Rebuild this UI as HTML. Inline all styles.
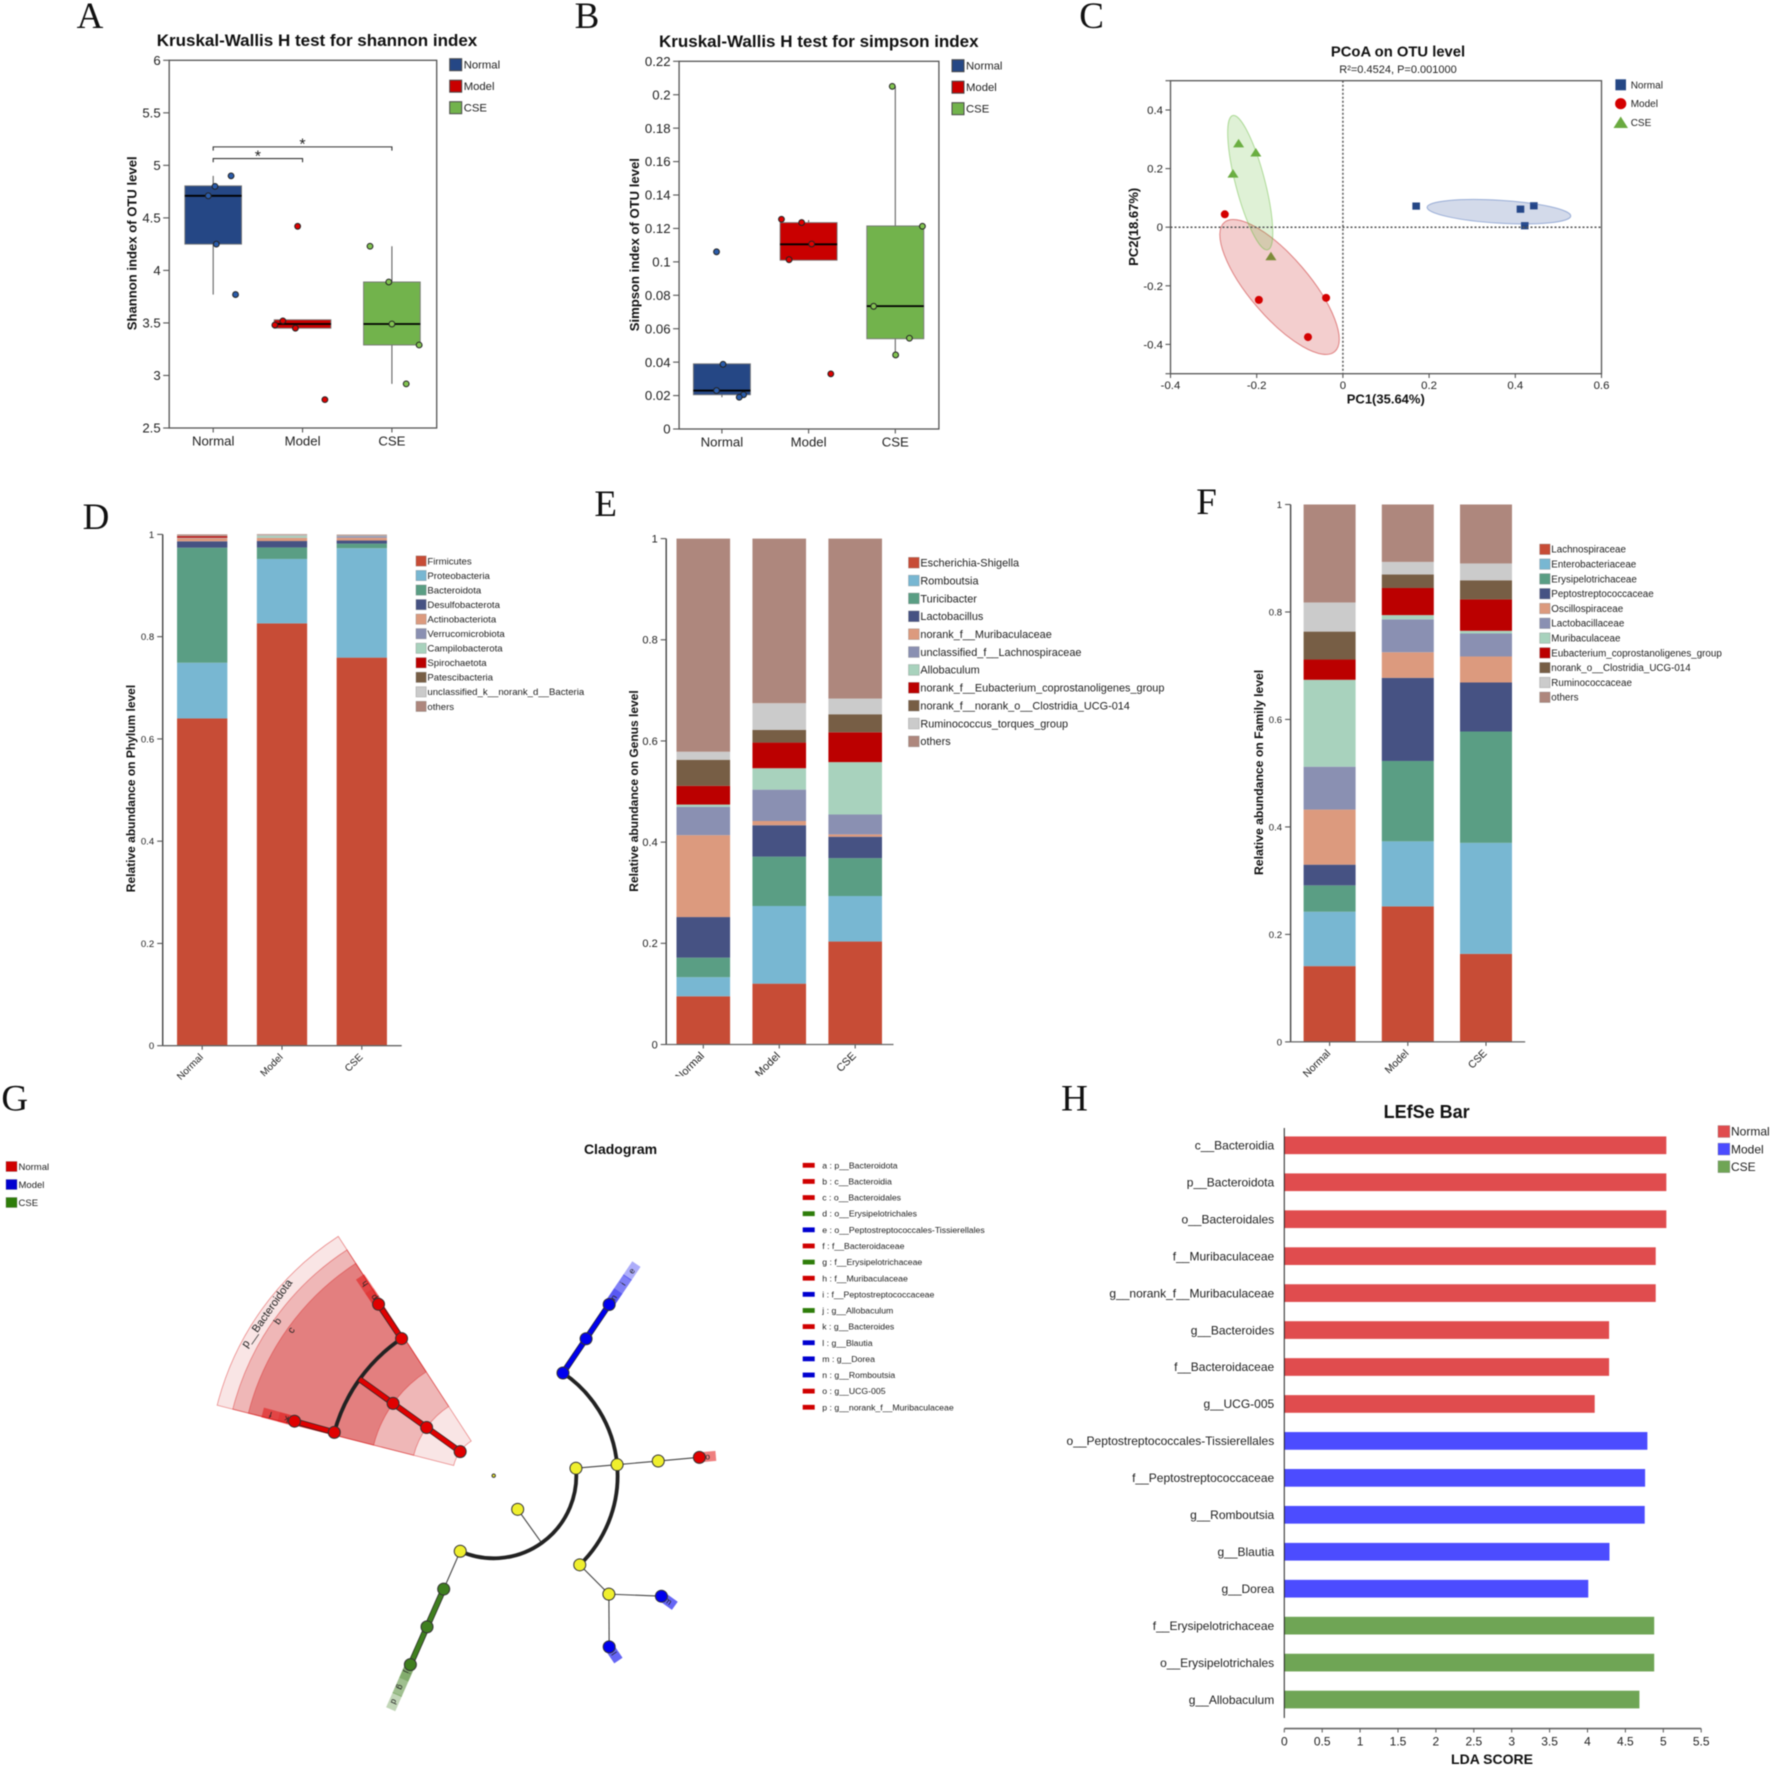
<!DOCTYPE html>
<html lang="en">
<head>
<meta charset="utf-8">
<title>Microbiome diversity figure</title>
<style>
html,body{margin:0;padding:0;background:#fff;}
svg{display:block;font-family:"Liberation Sans",Arial,sans-serif;filter:blur(0.45px);}
text{fill:#222;}
.panel-letter{font-family:"Liberation Serif","Times New Roman",serif;font-size:37px;fill:#111;}
.bold{font-weight:bold;fill:#111;}
</style>
</head>
<body>
<svg id="figure" xmlns="http://www.w3.org/2000/svg" width="1772" height="1768" viewBox="0 0 1772 1768">
<defs><clipPath id="genus-clip"><rect x="600" y="480" width="600" height="596"/></clipPath></defs>
<rect x="0" y="0" width="1772" height="1768" fill="#fff"/>

<text class="panel-letter" x="90" y="28" text-anchor="middle">A</text>
<text class="panel-letter" x="587" y="28" text-anchor="middle">B</text>
<text class="panel-letter" x="1091.6" y="28" text-anchor="middle">C</text>
<text class="panel-letter" x="96" y="529" text-anchor="middle">D</text>
<text class="panel-letter" x="605.7" y="516" text-anchor="middle">E</text>
<text class="panel-letter" x="1206.5" y="514" text-anchor="middle">F</text>
<text class="panel-letter" x="14.7" y="1110.5" text-anchor="middle">G</text>
<text class="panel-letter" x="1074.5" y="1110.5" text-anchor="middle">H</text>

<text class="bold" x="317" y="46" font-size="17" text-anchor="middle">Kruskal-Wallis H test for shannon index</text>
<text class="bold" font-size="13.1" text-anchor="middle" transform="translate(136.6,243.3) rotate(-90)">Shannon index of OTU level</text>
<text class="bold" x="818.8" y="47" font-size="17" text-anchor="middle">Kruskal-Wallis H test for simpson index</text>
<text class="bold" font-size="13.1" text-anchor="middle" transform="translate(638.9,244.7) rotate(-90)">Simpson index of OTU level</text>

<text class="bold" x="1398" y="56.7" font-size="14.8" text-anchor="middle">PCoA on OTU level</text>
<text x="1398" y="72.8" font-size="11" text-anchor="middle">R²=0.4524, P=0.001000</text>
<text class="bold" font-size="13" text-anchor="middle" transform="translate(1138,226.8) rotate(-90)">PC2(18.67%)</text>
<text class="bold" x="1385.8" y="403.5" font-size="13" text-anchor="middle">PC1(35.64%)</text>

<text class="bold" font-size="12" text-anchor="middle" transform="translate(134.9,788.5) rotate(-90)">Relative abundance on Phylum level</text>
<text class="bold" font-size="12" text-anchor="middle" transform="translate(637.9,791) rotate(-90)">Relative abundance on Genus level</text>
<text class="bold" font-size="12.2" text-anchor="middle" transform="translate(1262.9,772.4) rotate(-90)">Relative abundance on Family level</text>

<text class="bold" x="620.5" y="1154" font-size="14" text-anchor="middle">Cladogram</text>
<text class="bold" x="1426.6" y="1118" font-size="18" text-anchor="middle">LEfSe Bar</text>
<text class="bold" x="1492" y="1764" font-size="14" text-anchor="middle">LDA SCORE</text>

<g id="panel-a"></g>
<g id="panel-b"></g>
<g id="panel-c"></g>
<g id="panel-d"></g>
<g id="panel-e" clip-path="url(#genus-clip)"></g>
<g id="panel-f"></g>
<g id="panel-g"></g>
<g id="panel-h"></g>
</svg>

<script>
/* ---------- data: shared ---------- */
const groupNames = ['Normal', 'Model', 'CSE'];

/* ---------- data: shannon ---------- */
const shannonTicks = [2.5, 3, 3.5, 4, 4.5, 5, 5.5, 6];
const shannonQ1 = [4.25, 3.45, 3.29];
const shannonMedian = [4.71, 3.49, 3.49];
const shannonQ3 = [4.805, 3.53, 3.89];
const shannonWhiskerLow = [3.77, 3.45, 2.92];
const shannonWhiskerHigh = [4.9, 3.53, 4.23];
const shannonPoints = [[4.9, 4.8, 4.71, 4.25, 3.77], [3.52, 3.48, 3.45, 4.42, 2.77], [4.23, 3.89, 3.49, 3.29, 2.92]];
const shannonJitter = [[0.2, 0.02, -0.055, 0.035, 0.25], [-0.22, -0.31, -0.08, -0.055, 0.25], [-0.245, -0.035, 0, 0.305, 0.16]];
const shannonBracketLevels = [5.065, 5.176];
const shannonBracketTargets = [1, 2];

/* ---------- data: simpson ---------- */
const simpsonTicks = [0, 0.02, 0.04, 0.06, 0.08, 0.1, 0.12, 0.14, 0.16, 0.18, 0.2, 0.22];
const simpsonQ1 = [0.0205, 0.101, 0.054];
const simpsonMedian = [0.023, 0.1105, 0.0735];
const simpsonQ3 = [0.039, 0.1235, 0.1215];
const simpsonWhiskerLow = [0.019, 0.101, 0.0445];
const simpsonWhiskerHigh = [0.039, 0.125, 0.205];
const simpsonPoints = [[0.0387, 0.023, 0.0205, 0.019, 0.106], [0.1255, 0.1235, 0.1107, 0.1013, 0.033], [0.205, 0.1213, 0.0734, 0.0543, 0.0443]];
const simpsonJitter = [[0.013, -0.062, 0.25, 0.2, -0.062], [-0.313, -0.08, 0.035, -0.225, 0.256], [-0.035, 0.313, -0.25, 0.163, 0.004]];

/* ---------- data: pcoa ---------- */
const pcoaXTicks = [-0.4, -0.2, 0, 0.2, 0.4, 0.6];
const pcoaYTicks = [-0.5, -0.4, -0.2, 0, 0.2, 0.4, 0.5];
const pcoaNormalX = [0.17, 0.412, 0.443, 0.422];
const pcoaNormalY = [0.072, 0.0615, 0.073, 0.005];
const pcoaModelX = [-0.274, -0.195, -0.081, -0.039];
const pcoaModelY = [0.044, -0.248, -0.375, -0.241];
const pcoaCseX = [-0.242, -0.202, -0.255, -0.167];
const pcoaCseY = [0.286, 0.255, 0.183, -0.099];
const pcoaEllipseCenterX = [0.362, -0.147, -0.215];
const pcoaEllipseCenterY = [0.053, -0.204, 0.152];

/* ---------- data: stacked bars ---------- */
const abundanceTicks = [0, 0.2, 0.4, 0.6, 0.8, 1];
const phylumNames = ['Firmicutes', 'Proteobacteria', 'Bacteroidota', 'Desulfobacterota', 'Actinobacteriota', 'Verrucomicrobiota', 'Campilobacterota', 'Spirochaetota', 'Patescibacteria', 'unclassified_k__norank_d__Bacteria', 'others'];
const phylumValues = [
  [0.64, 0.826, 0.759], [0.109, 0.126, 0.214], [0.225, 0.0225, 0.009], [0.0125, 0.0125, 0.006],
  [0.006, 0.006, 0.0055], [0.0005, 0.0005, 0.003], [0.0005, 0.0035, 0.0003], [0.003, 0, 0],
  [0.0005, 0.0005, 0.0005], [0.0005, 0.0015, 0.0005], [0.0025, 0.0015, 0.0017]
];
const genusNames = ['Escherichia-Shigella', 'Romboutsia', 'Turicibacter', 'Lactobacillus', 'norank_f__Muribaculaceae', 'unclassified_f__Lachnospiraceae', 'Allobaculum', 'norank_f__Eubacterium_coprostanoligenes_group', 'norank_f__norank_o__Clostridia_UCG-014', 'Ruminococcus_torques_group', 'others'];
const genusValues = [
  [0.0953, 0.1203, 0.2035], [0.0378, 0.1535, 0.09], [0.0386, 0.0976, 0.0749], [0.0802, 0.062, 0.0423],
  [0.1619, 0.0084, 0.0046], [0.0559, 0.062, 0.0393], [0.0046, 0.0423, 0.1036], [0.037, 0.0507, 0.059],
  [0.0515, 0.025, 0.0356], [0.0159, 0.0529, 0.031], [0.4213, 0.3253, 0.3162]
];
const familyNames = ['Lachnospiraceae', 'Enterobacteriaceae', 'Erysipelotrichaceae', 'Peptostreptococcaceae', 'Oscillospiraceae', 'Lactobacillaceae', 'Muribaculaceae', 'Eubacterium_coprostanoligenes_group', 'norank_o__Clostridia_UCG-014', 'Ruminococcaceae', 'others'];
const familyValues = [
  [0.141, 0.2521, 0.1638], [0.1012, 0.1211, 0.2066], [0.0491, 0.1496, 0.2072], [0.0385, 0.1546, 0.0912],
  [0.1025, 0.0477, 0.0484], [0.0798, 0.0612, 0.0428], [0.1617, 0.0079, 0.005], [0.0377, 0.0505, 0.0584],
  [0.052, 0.025, 0.0356], [0.0542, 0.0235, 0.0313], [0.1823, 0.1068, 0.1097]
];

/* ---------- data: cladogram ---------- */
const cladoLegendLabels = ['a : p__Bacteroidota', 'b : c__Bacteroidia', 'c : o__Bacteroidales', 'd : o__Erysipelotrichales', 'e : o__Peptostreptococcales-Tissierellales', 'f : f__Bacteroidaceae', 'g : f__Erysipelotrichaceae', 'h : f__Muribaculaceae', 'i : f__Peptostreptococcaceae', 'j : g__Allobaculum', 'k : g__Bacteroides', 'l : g__Blautia', 'm : g__Dorea', 'n : g__Romboutsia', 'o : g__UCG-005', 'p : g__norank_f__Muribaculaceae'];
const cladoLegendGroups = [0, 0, 0, 2, 1, 0, 2, 0, 1, 2, 0, 1, 1, 1, 0, 0];
const cladoNodeLevels = [1, 2, 3, 4, 4, 4, 5, 5, 3, 4, 5, 3, 2, 4, 5, 3, 4, 5, 5, 1, 2, 2, 3, 4, 5, 0];
const cladoNodeAngles = [215.7, 215.7, 215.7, 215.7, 195.2, 236.1, 195.3, 236.1, 304, 304, 304, -5.1, -5.2, -5.1, -5.1, 46, 45.8, 35.7, 56, 54.5, 54.5, 113.9, 113.8, 113.8, 113.8, 0];
const cladoNodeGroups = [0, 0, 0, -1, 0, 0, 0, 0, 1, 1, 1, -2, -2, -2, 0, -2, -2, 1, 1, -2, -1, -2, 2, 2, 2, -2];
const cladoThickEdgesFrom = [3, 2, 1, 4, 5, 8, 9, 22, 23];
const cladoThickEdgesTo = [2, 1, 0, 6, 7, 9, 10, 23, 24];
const cladoThinEdgesFrom = [12, 11, 13, 15, 16, 16, 19, 21];
const cladoThinEdgesTo = [11, 13, 14, 16, 17, 18, 20, 22];
const cladoArcLevels = [4, 2, 3];
const cladoArcStart = [195.2, -5.2, 304];
const cladoArcEnd = [236.1, 113.9, 406];
const cladoFanInner = [1, 2, 3];
const cladoFanOuter = [6.91, 6.52, 6.13];
const cladoFanAlpha = [0.1, 0.2, 0.305];
const cladoFanAngleStart = [194.3];
const cladoFanAngleEnd = [237];
const cladoBoxLetters = ['p', 'h', 'k', 'f', 'n', 'i', 'e', 'j', 'g', 'd', 'o', 'm', 'l'];
const cladoBoxLevels = [5.2, 5.6, 5.2, 5.6, 5.2, 5.6, 5.98, 5.2, 5.6, 5.98, 5.2, 5.2, 5.2];
const cladoBoxAngles = [236.1, 236.1, 195.3, 195.3, 304, 304, 304, 113.8, 113.8, 113.8, -5.1, 35.7, 56];
const cladoBoxGroups = [0, 0, 0, 0, 1, 1, 1, 2, 2, 2, 0, 1, 1];
const cladoBoxAlpha = [0.55, 0.45, 0.55, 0.45, 0.65, 0.5, 0.32, 0.65, 0.5, 0.32, 0.5, 0.6, 0.6];

/* ---------- data: lefse ---------- */
const lefseTaxa = ['c__Bacteroidia', 'p__Bacteroidota', 'o__Bacteroidales', 'f__Muribaculaceae', 'g__norank_f__Muribaculaceae', 'g__Bacteroides', 'f__Bacteroidaceae', 'g__UCG-005', 'o__Peptostreptococcales-Tissierellales', 'f__Peptostreptococcaceae', 'g__Romboutsia', 'g__Blautia', 'g__Dorea', 'f__Erysipelotrichaceae', 'o__Erysipelotrichales', 'g__Allobaculum'];
const lefseScores = [5.04, 5.04, 5.04, 4.9, 4.9, 4.285, 4.285, 4.095, 4.79, 4.76, 4.755, 4.29, 4.01, 4.88, 4.88, 4.685];
const lefseGroups = [0, 0, 0, 0, 0, 0, 0, 0, 1, 1, 1, 1, 1, 2, 2, 2];
const lefseTicks = [0, 0.5, 1, 1.5, 2, 2.5, 3, 3.5, 4, 4.5, 5, 5.5];

/* ---------- helpers ---------- */
const NS = 'http://www.w3.org/2000/svg';
function make(tag, attrs, parent) {
  const e = document.createElementNS(NS, tag);
  for (const k in attrs) e.setAttribute(k, attrs[k]);
  parent.appendChild(e);
  return e;
}
function write(str, x, y, size, anchor, parent) {
  const t = make('text', { x: x, y: y + size * 0.35, 'font-size': size, 'text-anchor': anchor }, parent);
  t.textContent = str;
  return t;
}
function linear(d0, d1, r0, r1) {
  return function (v) { return r0 + (v - d0) / (d1 - d0) * (r1 - r0); };
}
function drawYTicks(g, prefix, ticks, y, axisX, len, gap, size) {
  ticks.forEach(function (v) {
    const tick = make('line', { x1: axisX - len, x2: axisX, y1: y(v), y2: y(v), stroke: '#555', 'stroke-width': 1.1 }, g);
    
    
    const t = write(String(v), axisX - len - gap, y(v), size, 'end', g);
    
    
  });
}
function drawLegend(g, prefix, names, colors, swatchX, firstY, step, box, textX, size, edge) {
  names.forEach(function (name, i) {
    const cy = firstY + i * step;
    const s = make('rect', { x: swatchX, y: cy - box / 2, width: box, height: box, fill: colors[i], stroke: edge || 'rgba(90,90,90,.35)', 'stroke-width': edge ? 1 : 0.7 }, g);
    
    
    const t = write(name, textX, cy, size, 'start', g);
    
    
  });
}

/* ---------- box plots ---------- */
const boxFills = ['#254785', '#c90000', '#72b34c'];
const dotFills = ['#2a5cab', '#e00000', '#82c451'];
function drawBoxChart(g, prefix, s, o) {
  const y = linear(o.yMin, o.yMax, o.bottom, o.top);
  const x = function (i) { return o.x0 + i * o.band; };
  const frame = make('rect', { x: o.left, y: o.top, width: o.right - o.left, height: o.bottom - o.top, fill: 'none', stroke: '#555', 'stroke-width': 1.3 }, g);
  
  
  drawYTicks(g, prefix, s.ticks, y, o.left, 6, 2.5, 13.2);
  groupNames.forEach(function (name, i) {
    const tk = make('line', { x1: x(i), x2: x(i), y1: o.bottom, y2: o.bottom + 4.5, stroke: '#555', 'stroke-width': 1.1 }, g);
    
    
    const lab = write(name, x(i), o.bottom + 13, 13.2, 'middle', g);
    
    
    const w = make('line', { x1: x(i), x2: x(i), y1: y(s.low[i]), y2: y(s.high[i]), stroke: '#555', 'stroke-width': 1 }, g);
    
    
    const b = make('rect', { x: x(i) - o.boxW / 2, y: y(s.q3[i]), width: o.boxW, height: y(s.q1[i]) - y(s.q3[i]), fill: boxFills[i], stroke: '#777', 'stroke-width': 0.9 }, g);
    
    
    const m = make('line', { x1: x(i) - o.boxW / 2, x2: x(i) + o.boxW / 2, y1: y(s.med[i]), y2: y(s.med[i]), stroke: '#000', 'stroke-width': 1.8 }, g);
    
    
    s.pts[i].forEach(function (v, j) {
      const c = make('circle', { cx: x(i + s.jit[i][j]), cy: y(v), r: 2.9, fill: dotFills[i], stroke: '#222', 'stroke-width': 1 }, g);
      
      
    });
  });
  drawLegend(g, prefix, groupNames, boxFills, o.legX, o.legY, 21.5, 12, o.legX + 14, 11.3, '#4a4a4a');
  return { x: x, y: y };
}
const aScale = drawBoxChart(document.getElementById('panel-a'), 'shannon',
  { ticks: shannonTicks, q1: shannonQ1, med: shannonMedian, q3: shannonQ3, low: shannonWhiskerLow, high: shannonWhiskerHigh, pts: shannonPoints, jit: shannonJitter },
  { yMin: 2.5, yMax: 6, top: 60.3, bottom: 428, left: 169.2, right: 436.7, x0: 213.2, band: 89.35, boxW: 56.7, legX: 449.7, legY: 64.7 });
drawBoxChart(document.getElementById('panel-b'), 'simpson',
  { ticks: simpsonTicks, q1: simpsonQ1, med: simpsonMedian, q3: simpsonQ3, low: simpsonWhiskerLow, high: simpsonWhiskerHigh, pts: simpsonPoints, jit: simpsonJitter },
  { yMin: 0, yMax: 0.22, top: 61.3, bottom: 429, left: 679.1, right: 938.9, x0: 721.9, band: 86.7, boxW: 57, legX: 952, legY: 65.7 });

shannonBracketLevels.forEach(function (v, i) {
  const g = document.getElementById('panel-a');
  const yy = aScale.y(v);
  const x1 = aScale.x(0);
  const x2 = aScale.x(shannonBracketTargets[i]);
  const p = make('path', { d: 'M' + x1 + ' ' + (yy + 3.7) + 'V' + yy + 'H' + x2 + 'V' + (yy + 3.7), fill: 'none', stroke: '#333', 'stroke-width': 1.1 }, g);
  
  
  const st = write('*', (x1 + x2) / 2, yy - 2.8, 16, 'middle', g);
  
  
});

/* ---------- PCoA ---------- */
(function () {
  const g = document.getElementById('panel-c');
  const x = linear(-0.4, 0.6, 1170.5, 1601.5);
  const y = linear(-0.5, 0.5, 373.7, 80.7);
  const frame = make('rect', { x: 1170.5, y: 80.7, width: 431, height: 293, fill: 'none', stroke: '#555', 'stroke-width': 1.3 }, g);
  
  
  pcoaYTicks.forEach(function (v) {
    const tk = make('line', { x1: 1165.5, x2: 1170.5, y1: y(v), y2: y(v), stroke: '#555', 'stroke-width': 1.1 }, g);
    
    
    if (Math.abs(v) < 0.5) {
      const t = write(String(v), 1163, y(v), 11.4, 'end', g);
      
      
    }
  });
  pcoaXTicks.forEach(function (v) {
    const tk = make('line', { x1: x(v), x2: x(v), y1: 373.7, y2: 378, stroke: '#555', 'stroke-width': 1.1 }, g);
    
    
    const t = write(String(v), x(v), 385, 11.4, 'middle', g);
    
    
  });
  pcoaNormalX.forEach(function (v, i) {
    const m = make('rect', { x: x(v) - 3.8, y: y(pcoaNormalY[i]) - 3.6, width: 7.6, height: 7.2, fill: '#254785' }, g);
    
    
  });
  pcoaCseX.forEach(function (v, i) {
    const px = x(v), py = y(pcoaCseY[i]);
    const m = make('polygon', { points: (px - 5.5) + ',' + (py + 4) + ' ' + (px + 5.5) + ',' + (py + 4) + ' ' + px + ',' + (py - 4.5), fill: '#6aaa40' }, g);
    
    
  });
  const radiiA = [72, 85, 69.4], radiiB = [11.5, 30, 14.7], tilt = [3.5, 49.5, 75.4];
  const fills = ['rgba(37,72,150,.2)', 'rgba(200,30,30,.22)', 'rgba(110,190,70,.22)'];
  const strokes = ['rgba(60,100,180,.45)', 'rgba(200,30,30,.5)', 'rgba(110,190,70,.5)'];
  groupNames.forEach(function (name, i) {
    const cx = x(pcoaEllipseCenterX[i]), cy = y(pcoaEllipseCenterY[i]);
    const e = make('ellipse', { cx: cx, cy: cy, rx: radiiA[i], ry: radiiB[i], fill: fills[i], stroke: strokes[i], 'stroke-width': 1, transform: 'rotate(' + tilt[i] + ' ' + cx + ' ' + cy + ')' }, g);
    
    
  });
  pcoaModelX.forEach(function (v, i) {
    const m = make('circle', { cx: x(v), cy: y(pcoaModelY[i]), r: 4, fill: '#d40000' }, g);
    
    
  });
  const h = make('line', { x1: 1170.5, x2: 1601.5, y1: y(0), y2: y(0), stroke: '#555', 'stroke-width': 1.5, 'stroke-dasharray': '2 2' }, g);
  
  
  const vl = make('line', { x1: x(0), x2: x(0), y1: 80.7, y2: 373.7, stroke: '#555', 'stroke-width': 1.5, 'stroke-dasharray': '2 2' }, g);
  
  

  const k1 = make('rect', { x: 1615.4, y: 79.3, width: 10.6, height: 11, fill: '#254785' }, g);
  
  
  const k2 = make('circle', { cx: 1620.7, cy: 103.7, r: 5.6, fill: '#d40000' }, g);
  
  
  const k3 = make('polygon', { points: '1613.5,128 1628,128 1620.7,116.5', fill: '#6aaa40' }, g);
  
  
  groupNames.forEach(function (name, i) {
    const t = write(name, 1630.7, 84.8 + i * 18.9, 10, 'start', g);
    
    
  });
})();

/* ---------- stacked bars ---------- */
const stackColors = ['#c74c36', '#78b7d2', '#5a9e84', '#465283', '#dc9a7e', '#8a90b2', '#a8d2bd', '#bb0000', '#775e45', '#cbcbcb', '#ae877d'];
function drawStack(g, prefix, names, values, o) {
  const y = linear(0, 1, o.y0, o.y1);
  const x = function (i) { return o.x0 + i * o.band; };
  groupNames.forEach(function (cat, c) {
    let cum = 0;
    names.forEach(function (name, s) {
      const v = values[s][c];
      const top = y(cum + v), bot = y(cum);
      const r = make('rect', { x: x(c) - o.barW / 2, y: top, width: o.barW, height: bot - top, fill: stackColors[s] }, g);
      
      
      cum += v;
    });
    const tk = make('line', { x1: x(c), x2: x(c), y1: o.y0, y2: o.y0 + 4, stroke: '#444', 'stroke-width': 1 }, g);
    
    
    const lx = x(c) + 1.5, ly = o.y0 + 12;
    const t = make('text', { x: lx, y: ly, 'font-size': o.catSize, 'text-anchor': 'end', transform: 'rotate(-45 ' + lx + ' ' + ly + ')' }, g);
    t.textContent = cat;
    
    
  });
  const ya = make('line', { x1: o.axisX, x2: o.axisX, y1: o.y1, y2: o.y0, stroke: '#444', 'stroke-width': 1.4 }, g);
  
  
  const xa = make('line', { x1: o.axisX, x2: o.xEnd, y1: o.y0, y2: o.y0, stroke: '#666', 'stroke-width': 1.3 }, g);
  
  
  drawYTicks(g, prefix, abundanceTicks, y, o.axisX, 5.5, 3, o.tickSize);
  drawLegend(g, prefix, names, stackColors, o.legX, o.legY, o.legStep, o.legBox, o.legX + o.legBox + 1.2, o.legSize);
}
drawStack(document.getElementById('panel-d'), 'phylum', phylumNames, phylumValues,
  { y0: 1045.7, y1: 534.4, x0: 202.2, band: 79.8, barW: 50.3, axisX: 162.7, xEnd: 401.7, tickSize: 9.6, catSize: 10, legX: 416, legY: 561, legStep: 14.54, legBox: 10.2, legSize: 9.6 });
drawStack(document.getElementById('panel-e'), 'genus', genusNames, genusValues,
  { y0: 1044.5, y1: 538.6, x0: 703.3, band: 75.95, barW: 53.6, axisX: 666.2, xEnd: 893.5, tickSize: 11, catSize: 11, legX: 908.5, legY: 562.7, legStep: 17.87, legBox: 10.7, legSize: 10.9 });
drawStack(document.getElementById('panel-f'), 'family', familyNames, familyValues,
  { y0: 1041.9, y1: 504.5, x0: 1329.6, band: 78.2, barW: 52, axisX: 1290.6, xEnd: 1525.2, tickSize: 9.6, catSize: 10.5, legX: 1539.7, legY: 549.3, legStep: 14.8, legBox: 10.4, legSize: 9.8 });

/* ---------- cladogram ---------- */
(function () {
  const g = document.getElementById('panel-g');
  const cx = 493.7, cy = 1475.7, unit = 41.3;
  const cladoColors = ['#e00000', '#0000ee', '#3f7f1f'];
  const polar = function (level, deg) {
    const a = deg * Math.PI / 180;
    return [cx + level * unit * Math.cos(a), cy + level * unit * Math.sin(a)];
  };
  const nodeXY = function (i) { return polar(cladoNodeLevels[i], cladoNodeAngles[i]); };
  const legColors = ['#d00000', '#0000d0', '#2e7d0a'];

  groupNames.forEach(function (name, i) {
    const s = make('rect', { x: 6, y: 1161.5 + i * 18, width: 11, height: 10, fill: legColors[i], stroke: 'rgba(80,80,80,.4)', 'stroke-width': 0.6 }, g);
    
    
    const t = write(name, 18.5, 1166.5 + i * 18, 9.5, 'start', g);
    
    
  });
  cladoLegendLabels.forEach(function (txt, i) {
    const yy = 1165.3 + i * 16.13;
    const s = make('rect', { x: 802.7, y: yy - 2.4, width: 12, height: 4.8, fill: legColors[cladoLegendGroups[i]] }, g);
    
    
    const t = write(txt, 822.3, yy, 8.7, 'start', g);
    
    
  });

  cladoFanInner.forEach(function (inner, i) {
    const outer = cladoFanOuter[i], a0 = cladoFanAngleStart[0], a1 = cladoFanAngleEnd[0];
    const p1 = polar(inner, a0), p2 = polar(outer, a0), p3 = polar(outer, a1), p4 = polar(inner, a1);
    const rO = outer * unit, rI = inner * unit;
    const d = 'M' + p1 + 'L' + p2 + 'A' + rO + ' ' + rO + ' 0 0 1 ' + p3 + 'L' + p4 + 'A' + rI + ' ' + rI + ' 0 0 0 ' + p1 + 'Z';
    const f = make('path', { d: d, fill: 'rgba(200,0,0,' + cladoFanAlpha[i] + ')', stroke: 'rgba(220,40,40,.5)', 'stroke-width': 0.8 }, g);
    
    
  });

  cladoBoxLetters.forEach(function (ch, i) {
    const lv = cladoBoxLevels[i], ang = cladoBoxAngles[i];
    const a = polar(lv - 0.2, ang), b = polar(lv + 0.2, ang), m = polar(lv, ang);
    const c = cladoColors[cladoBoxGroups[i]];
    const seg = make('line', { x1: a[0], y1: a[1], x2: b[0], y2: b[1], stroke: c, 'stroke-opacity': cladoBoxAlpha[i], 'stroke-width': 10 }, g);
    
    
    const t = make('text', { x: m[0], y: m[1] + 2.8, 'font-size': 8.5, 'text-anchor': 'middle', transform: 'rotate(' + ang + ' ' + m[0] + ' ' + m[1] + ')' }, g);
    t.textContent = ch;
    
    
  });

  const pl = make('text', { x: 266.7, y: 1317, 'font-size': 11, 'text-anchor': 'middle', transform: 'rotate(-55 266.7 1313.3)' }, g);
  pl.textContent = 'p__Bacteroidota';
  
  
  const bl = make('text', { x: 277.3, y: 1324.5, 'font-size': 10, 'text-anchor': 'middle', transform: 'rotate(-55 277.3 1321)' }, g);
  bl.textContent = 'b';
  
  
  const cl = make('text', { x: 291, y: 1333.5, 'font-size': 10, 'text-anchor': 'middle', transform: 'rotate(-55 291 1330)' }, g);
  cl.textContent = 'c';
  
  

  cladoThinEdgesFrom.forEach(function (from, i) {
    const a = nodeXY(from), b = nodeXY(cladoThinEdgesTo[i]);
    const l = make('line', { x1: a[0], y1: a[1], x2: b[0], y2: b[1], stroke: '#444', 'stroke-width': 1.1 }, g);
    
    
  });
  cladoArcLevels.forEach(function (lv, i) {
    const a = polar(lv, cladoArcStart[i]), b = polar(lv, cladoArcEnd[i]), r = lv * unit;
    const p = make('path', { d: 'M' + a + 'A' + r + ' ' + r + ' 0 0 1 ' + b, fill: 'none', stroke: '#222', 'stroke-width': 3.8 }, g);
    
    
  });
  const thickGroups = [0, 0, 0, 0, 0, 1, 1, 2, 2];
  cladoThickEdgesFrom.forEach(function (from, i) {
    const a = nodeXY(from), b = nodeXY(cladoThickEdgesTo[i]);
    const u = make('line', { x1: a[0], y1: a[1], x2: b[0], y2: b[1], stroke: '#222', 'stroke-width': 6 }, g);
    
    
    const l = make('line', { x1: a[0], y1: a[1], x2: b[0], y2: b[1], stroke: cladoColors[thickGroups[i]], 'stroke-width': 4.6 }, g);
    
    
  });
  cladoNodeLevels.forEach(function (lv, i) {
    const grp = cladoNodeGroups[i];
    if (grp === -1) return;
    const p = nodeXY(i);
    const rad = lv === 0 ? 1.7 : 6;
    const fill = grp === -2 ? '#efef2e' : cladoColors[grp];
    const c = make('circle', { cx: p[0], cy: p[1], r: rad, fill: fill, stroke: '#333', 'stroke-width': 1 }, g);
    
    
  });
})();

/* ---------- LEfSe ---------- */
(function () {
  const g = document.getElementById('panel-h');
  const x = linear(0, 5, 1284.3, 1663.3);
  const rowY = function (i) { return 1145.3 + i * 36.95; };
  const colors = ['#e04c4e', '#4c4cff', '#6fa555'];
  lefseTaxa.forEach(function (name, i) {
    const b = make('rect', { x: x(0), y: rowY(i) - 8.85, width: x(lefseScores[i]) - x(0), height: 17.7, fill: colors[lefseGroups[i]] }, g);
    
    
    const t = write(name, 1274.2, rowY(i), 12, 'end', g);
    
    
  });
  const ya = make('line', { x1: x(0), x2: x(0), y1: 1128, y2: 1718, stroke: '#222', 'stroke-width': 1 }, g);
  
  
  const xa = make('line', { x1: x(0), x2: x(5.5), y1: 1728.6, y2: 1728.6, stroke: '#666', 'stroke-width': 1.6 }, g);
  
  
  lefseTicks.forEach(function (v) {
    const tk = make('line', { x1: x(v), x2: x(v), y1: 1728.6, y2: 1732.5, stroke: '#555', 'stroke-width': 1 }, g);
    
    
    const t = write(String(v), x(v), 1741.5, 12, 'middle', g);
    
    
  });
  drawLegend(g, 'lefse', groupNames, colors, 1718, 1131.5, 17.6, 11.8, 1731, 12);
})();
</script>
</body>
</html>
